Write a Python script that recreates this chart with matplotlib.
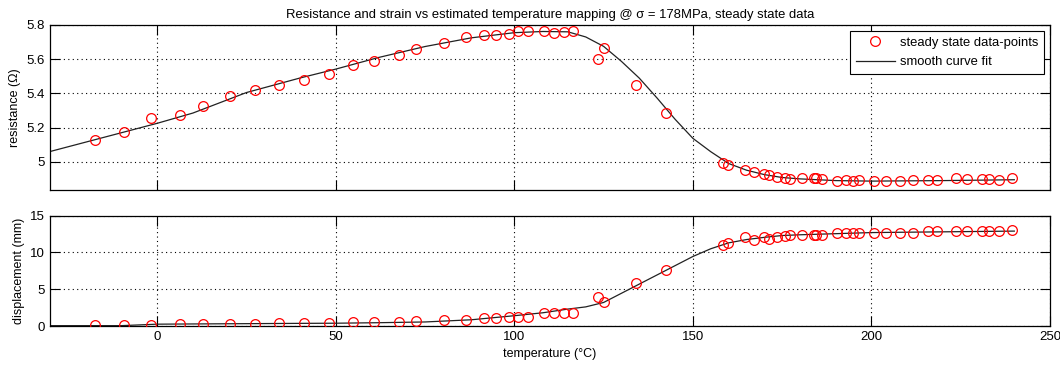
import matplotlib
matplotlib.use('Agg')
import matplotlib.pyplot as plt

plt.rcParams['font.family'] = ['Liberation Sans', 'DejaVu Sans']
plt.rcParams['font.size'] = 9

# steady state data-points
temp = [-17.3, -9.4, -1.6, 6.3, 12.9, 20.5, 27.3, 34.0, 41.2, 48.0,
        54.7, 60.6, 67.6, 72.5, 80.4, 86.4, 91.4, 95.0, 98.6, 101.0,
        103.7, 108.2, 111.0, 114.0, 116.3, 123.3, 125.0, 134.2, 142.4, 158.4,
        159.8, 164.5, 167.0, 169.8, 171.2, 173.6, 175.7, 177.3, 180.6, 183.8,
        184.5, 186.2, 190.3, 192.8, 194.9, 196.6, 200.6, 204.0, 207.9, 211.6,
        215.8, 218.4, 223.8, 226.7, 231.0, 232.8, 235.8, 239.3]
resistance = [5.127, 5.176, 5.255, 5.276, 5.329, 5.383, 5.419, 5.448, 5.481, 5.513,
              5.565, 5.592, 5.622, 5.659, 5.694, 5.730, 5.741, 5.741, 5.749, 5.767,
              5.767, 5.767, 5.753, 5.759, 5.765, 5.604, 5.665, 5.448, 5.287, 4.994,
              4.979, 4.950, 4.940, 4.926, 4.924, 4.912, 4.903, 4.900, 4.908, 4.904,
              4.904, 4.897, 4.889, 4.893, 4.889, 4.893, 4.887, 4.887, 4.887, 4.894,
              4.893, 4.893, 4.903, 4.897, 4.899, 4.899, 4.894, 4.903]
displacement = [0.14, 0.14, 0.14, 0.23, 0.23, 0.23, 0.23, 0.41, 0.41, 0.41,
                0.55, 0.50, 0.55, 0.64, 0.82, 0.82, 1.05, 1.09, 1.23, 1.23,
                1.23, 1.73, 1.73, 1.73, 1.73, 3.95, 3.27, 5.86, 7.64, 11.05,
                11.27, 12.05, 11.64, 12.05, 11.86, 12.14, 12.23, 12.32, 12.32, 12.41,
                12.41, 12.41, 12.60, 12.60, 12.60, 12.60, 12.60, 12.70, 12.70, 12.70,
                12.85, 12.85, 12.85, 12.90, 12.90, 12.85, 12.90, 13.00]

# smooth curve fits
fit_t = [-30, -20, -10, 0, 10, 25, 40, 50, 62, 75, 88, 100, 108, 115, 120,
         125, 130, 135, 140, 145, 150, 155, 160, 165, 170, 175, 180, 190,
         200, 220, 240]
fit_r = [5.06, 5.115, 5.17, 5.225, 5.285, 5.405, 5.49, 5.542, 5.61, 5.674, 5.725,
         5.755, 5.762, 5.760, 5.73, 5.675, 5.587, 5.489, 5.372, 5.249, 5.137,
         5.059, 4.99, 4.951, 4.925, 4.908, 4.900, 4.890, 4.887, 4.890, 4.895]
fit_d = [0.05, 0.05, 0.05, 0.25, 0.28, 0.32, 0.36, 0.38, 0.45, 0.55, 0.85,
         1.4, 1.8, 2.3, 2.6, 3.2, 4.45, 5.7, 6.95, 8.2, 9.45, 10.5, 11.3,
         11.75, 12.05, 12.3, 12.4, 12.55, 12.7, 12.8, 12.9]

fig = plt.figure(figsize=(10.6, 3.68), dpi=100)
ax1 = fig.add_axes([0.0472, 0.4837, 0.9434, 0.4484])
ax2 = fig.add_axes([0.0472, 0.1141, 0.9434, 0.2999])

grid_kw = dict(color='black', linestyle=(0, (1, 3)), linewidth=0.8)

for ax in (ax1, ax2):
    ax.plot(temp, resistance if ax is ax1 else displacement, 'o', mfc='none',
            mec='red', ms=7, mew=0.9, label='steady state data-points', zorder=3)
    ax.plot(fit_t, fit_r if ax is ax1 else fit_d, '-', color='#222222', lw=0.9,
            label='smooth curve fit', zorder=2)
    ax.set_xlim(-30, 250)
    ax.set_xticks([0, 50, 100, 150, 200, 250])
    ax.grid(True, **grid_kw)
    ax.set_axisbelow(True)
    ax.tick_params(direction='in', length=7, width=0.8, top=True, right=True,
                   labelsize=9.5)
    for s in ax.spines.values():
        s.set_linewidth(0.9)

ax1.set_ylim(4.835, 5.8)
ax1.set_yticks([5.0, 5.2, 5.4, 5.6, 5.8])
ax1.set_yticklabels(['5', '5.2', '5.4', '5.6', '5.8'])
ax1.set_xticklabels([])
ax1.set_ylabel('resistance (Ω)', labelpad=4)
ax1.set_title('Resistance and strain vs estimated temperature mapping @ σ = 178MPa, steady state data',
              fontsize=9.4, pad=5)
leg = ax1.legend(loc='upper right', fancybox=False, edgecolor='black',
                 framealpha=1, handlelength=3.0, handletextpad=0.4, fontsize=9.4,
                 borderpad=0.45, labelspacing=0.55, borderaxespad=0.45)
leg.get_frame().set_linewidth(0.8)

ax2.set_ylim(0, 15)
ax2.set_yticks([0, 5, 10, 15])
ax2.set_ylabel('displacement (mm)', labelpad=4)
ax2.set_xlabel('temperature (°C)', labelpad=4)

fig.savefig('out.png', dpi=100)
